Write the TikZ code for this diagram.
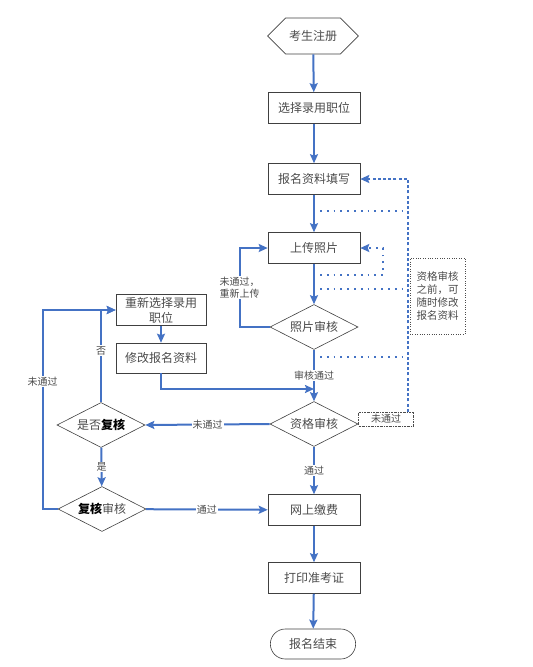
\documentclass[tikz,border=0pt]{standalone}
\usepackage{fontspec}
\setmainfont{Noto Sans CJK SC}
\usetikzlibrary{shapes}
\usetikzlibrary{arrows}
\usetikzlibrary{arrows.meta}
\definecolor{bleu}{RGB}{68,114,196}
\definecolor{gris}{RGB}{75,75,75}

\begin{document}
\begin{tikzpicture}[x=1pt,y=-1pt,font=\fontsize{12}{15}\selectfont]
\tikzstyle{lien}=[-{Stealth[length=9pt,width=8pt,inset=1.5pt]},line width=2pt,draw=bleu]
\tikzstyle{pointille}=[draw=bleu,line width=1.8pt,dash pattern=on 1.8pt off 5pt]
\tikzstyle{tirets}=[-{Stealth[length=9pt,width=8pt,inset=1.5pt]},draw=bleu,line width=2pt,dash pattern=on 3pt off 2.2pt]
\tikzset{boite/.style={draw=black!75,line width=0.6pt,text=gris},
etape/.style={boite,rectangle,minimum width=92pt,minimum height=31pt},
test/.style={boite,diamond,aspect=2,minimum width=88pt,minimum height=45pt,inner sep=0pt},
etiquette/.style={font=\fontsize{10}{12}\selectfont,fill=white,inner sep=1pt,text=gris}}
\useasboundingbox (0,0) rectangle (533,667);
% colonne principale
\node [boite,signal,signal to=west and east,minimum width=90pt,minimum height=36pt] (inscription) at (313,36) {考生注册};
\node [etape] (choix) at (314,108) {选择录用职位};
\node [etape] (remplir) at (314,179) {报名资料填写};
\node [etape] (photo) at (314,248) {上传照片};
\node [test] (testphoto) at (314,327) {照片审核};
\node [test] (qualif) at (314,424) {资格审核};
\node [etape] (paiement) at (314,510) {网上缴费};
\node [etape] (imprimer) at (314,578) {打印准考证};
\node [boite,rounded rectangle,minimum width=92pt,minimum height=30pt] (fin) at (313,644) {报名结束};
% colonne de gauche
\node [etape,minimum width=90pt,inner sep=1pt,align=center] (rechoix) at (161,310) {重新选择录用\\职位};
\node [etape,minimum width=90pt,minimum height=30pt] (modifier) at (161,358) {修改报名资料};
\node [test] (testrecours) at (101,425) {是否{\color{black}\bfseries 复核}};
\node [test] (recours) at (102,509) {{\color{black}\bfseries 复核}审核};
% notes
\node [draw=black!70,line width=0.4pt,dash pattern=on 2pt off 1pt on 0.5pt off 1pt,font=\fontsize{10}{12}\selectfont,text=gris,minimum width=55pt,minimum height=14pt,inner sep=0pt] (etiq) at (386,419) {未通过};
\node [draw=black!70,line width=0.4pt,dotted,font=\fontsize{10.5}{13}\selectfont,text=gris,minimum width=55pt,minimum height=76pt,align=center,inner sep=1pt] (note) at (437.5,296) {资格审核\\之前，可\\随时修改\\报名资料};
\coordinate (v) at (408,0);
\coordinate (d1) at (320,211);
\coordinate (d2) at (320,275);
\coordinate (d3) at (320,289);
\coordinate (d4) at (320,357);
\coordinate (jonction) at (314,389);

\draw [lien] (inscription) -- (choix);
\draw [lien] (choix) -- (remplir);
\draw [lien] (remplir) -- (photo);
\draw [lien] (photo) -- (testphoto);
\draw [lien] (testphoto) -- node[etiquette]{审核通过} (qualif);
\draw [lien] (testphoto.west) -- ++(-30,0) |- node[etiquette,pos=0.25,align=center]{未通过，\\重新上传} (photo.west);
\draw [lien] (qualif) -- node[etiquette]{通过} (paiement);
\draw [lien] (paiement) -- (imprimer);
\draw [lien] (imprimer) -- (fin);
\draw [lien] (qualif.west) -- node[etiquette]{未通过} (testrecours.east);
\draw [lien] (testrecours) -- node[etiquette]{是} (recours);
\draw [lien] (recours) -- node[etiquette]{通过} (paiement);
\draw [lien] (testrecours.north) |- node[etiquette,pos=0.28]{否} (rechoix.west);
\draw [lien] (recours.west) -- ++(-15,0) |- node[etiquette,pos=0.32]{未通过} (rechoix.west);
\draw [lien] (rechoix) -- (modifier);
\draw [lien] (modifier.south) |- (jonction);
% retours en pointille
\draw [pointille] (d1) -- (d1 -| v);
\draw [pointille] (d3) -- (d3 -| v);
\draw [pointille] (d4) -- (d4 -| v);
\draw [pointille,-{Stealth[length=9pt,width=8pt,inset=1.5pt]}] (d2) -- ++(63,0) |- (photo.east);
\draw [tirets] (etiq.north -| v) |- (remplir.east);
\end{tikzpicture}
\end{document}
